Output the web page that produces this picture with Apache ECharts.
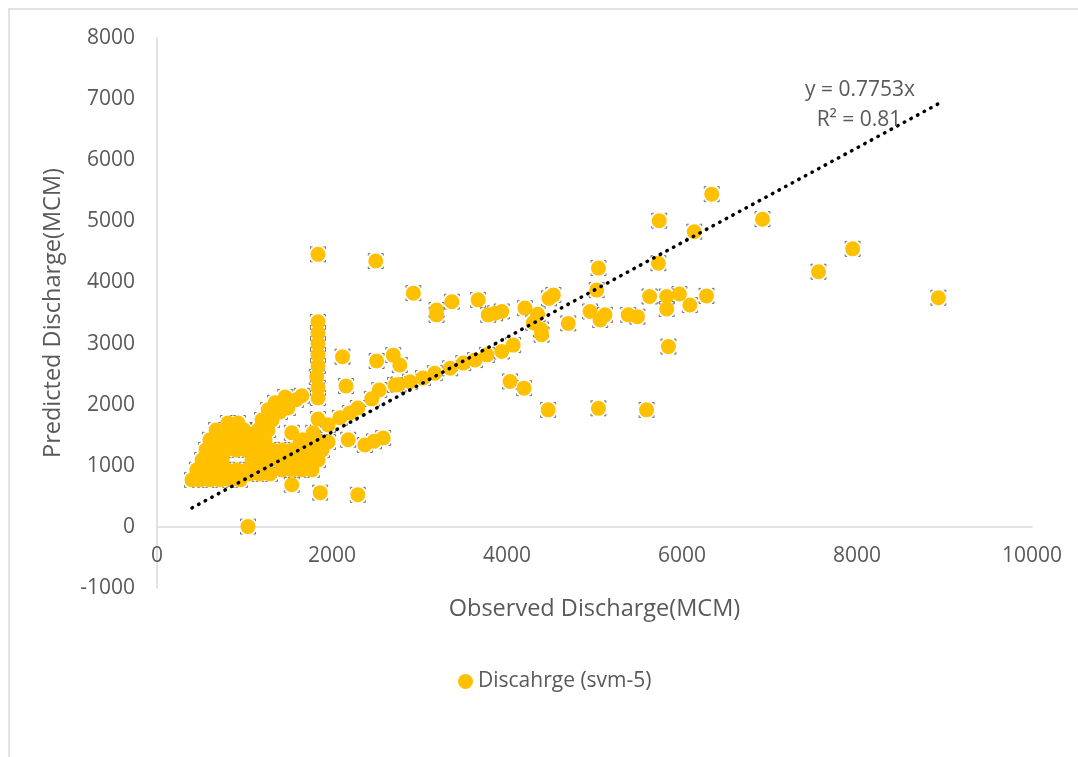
<!DOCTYPE html>
<html>
<head>
<meta charset="utf-8">
<title>Discharge scatter</title>
<script src="https://cdn.jsdelivr.net/npm/echarts@6/dist/echarts.min.js"></script>
<style>
  html, body { margin: 0; padding: 0; background: #ffffff; }
  #chart { width: 1078px; height: 757px; }
</style>
</head>
<body>
<div id="chart"></div>
<script>
// Observed vs predicted discharge (MCM), one pair per sample
const seriesName = 'Discahrge (svm-5)';
const xAxisTitle = 'Observed Discharge(MCM)';
const yAxisTitle = 'Predicted Discharge(MCM)';
const trendSlope = 0.7753;
const rSquared = 0.81;

const xTicks = { min: 0, max: 10000, step: 2000 };
const yTicks = { min: -1000, max: 8000, step: 1000 };

// scattered samples over the mid and upper range
const spreadSamples = [
  [1040, 5], [1840, 4460], [2500, 4350],
  [1840, 3355], [1840, 3175], [1840, 2995], [1840, 2815], [1840, 2635],
  [1825, 2455], [1840, 2275], [1840, 2110], [1840, 1765],
  [2120, 2785], [2160, 2305], [2510, 2715], [2700, 2810], [2775, 2650],
  [2540, 2240], [2455, 2095], [1655, 2145], [1540, 1540],
  [2185, 1425], [2375, 1340], [2480, 1400], [2585, 1455],
  [1540, 690], [1865, 560], [2295, 525],
  [2930, 3825], [3195, 3550], [3195, 3470], [3370, 3685], [3670, 3715],
  [3785, 3470], [3865, 3495], [3940, 3525], [4205, 3580], [4350, 3480],
  [4300, 3340], [4390, 3230], [4395, 3145], [4530, 3795], [4480, 3740],
  [4700, 3330], [4950, 3525], [5045, 4235], [5025, 3875], [5120, 3470],
  [5065, 3385], [5385, 3470], [5490, 3440], [5630, 3770], [5730, 4315],
  [5825, 3770], [5825, 3565], [5970, 3810], [6090, 3630], [6280, 3780],
  [5845, 2950], [4035, 2380], [4195, 2270], [4470, 1915], [5045, 1940],
  [5595, 1915], [6340, 5445], [5740, 5010], [6140, 4830], [6920, 5035],
  [7950, 4550], [7560, 4175], [8930, 3750]
];

// samples lying close to the fitted line
const trendSamples = [
  [1670, 1425], [1785, 1540], [1955, 1670], [2090, 1785], [2205, 1865],
  [2295, 1945], [2720, 2320], [2760, 2330], [2890, 2375], [3040, 2435],
  [3175, 2515], [3350, 2595], [3500, 2680], [3635, 2730], [3770, 2815],
  [3940, 2870], [4070, 2975]
];

// dense group of low-flow samples
const lowFlowSamples = [
  [400, 770], [490, 770], [605, 770], [720, 770], [835, 770], [950, 770],
  [455, 935], [570, 935], [685, 935], [800, 935], [915, 935], [1030, 935], [1145, 935], [1255, 935],
  [515, 1095], [630, 1095], [745, 1095], [1085, 1095], [1200, 1095],
  [560, 1260], [675, 1260], [790, 1260], [905, 1260], [1015, 1260], [1130, 1260],
  [605, 1425], [720, 1425], [835, 1425], [950, 1425], [1065, 1425],
  [675, 1585], [790, 1585], [905, 1585], [995, 1585],
  [810, 1700], [925, 1700],
  [1465, 2125], [1590, 2080], [1350, 2030], [1495, 1945], [1270, 1915], [1405, 1880],
  [1200, 1750], [1315, 1750], [1155, 1585], [1270, 1585], [1120, 1425], [1235, 1425],
  [1065, 867], [1175, 867], [1290, 867],
  [1430, 933], [1545, 933], [1655, 933], [1770, 933],
  [1155, 1096], [1270, 1096], [1385, 1096], [1500, 1096], [1610, 1096], [1725, 1096], [1840, 1096],
  [1200, 1260], [1315, 1260], [1430, 1260], [1545, 1260], [1655, 1260], [1770, 1260], [1885, 1260],
  [1635, 1390], [1750, 1390], [1865, 1390], [1955, 1390]
];

const samples = lowFlowSamples.concat(trendSamples, spreadSamples);

// fitted line through the origin, spanning the observed range
const obsValues = samples.map(p => p[0]);
const xLo = Math.min.apply(null, obsValues);
const xHi = Math.max.apply(null, obsValues);
const trendLine = [[xLo, trendSlope * xLo], [xHi, trendSlope * xHi]];

const textColor = '#595959';
const axisColor = '#d9d9d9';
const fontFamily = '"Open Sans", "Liberation Sans", sans-serif';
const plainNumber = v => String(v);

const chart = echarts.init(document.getElementById('chart'), null, { renderer: 'canvas' });

chart.setOption({
  animation: false,
  backgroundColor: '#ffffff',
  textStyle: { fontFamily: fontFamily },
  grid: { left: 157, right: 46, top: 38, bottom: 169 },
  xAxis: {
    type: 'value',
    min: xTicks.min, max: xTicks.max, interval: xTicks.step,
    axisLine: { onZero: true, lineStyle: { color: axisColor, width: 1.5 } },
    axisTick: { show: false },
    splitLine: { show: false },
    // labels sit just under the zero line, above the -1000 level
    axisLabel: { color: textColor, fontSize: 21, margin: -42, fontFamily: fontFamily, formatter: plainNumber },
    name: xAxisTitle,
    nameLocation: 'middle',
    nameGap: 9,
    nameTextStyle: { color: textColor, fontSize: 23.5, fontFamily: fontFamily }
  },
  yAxis: {
    type: 'value',
    min: yTicks.min, max: yTicks.max, interval: yTicks.step,
    axisLine: { show: true, onZero: false, lineStyle: { color: axisColor, width: 1.5 } },
    axisTick: { show: false },
    splitLine: { show: false },
    axisLabel: { color: textColor, fontSize: 21, margin: 22, fontFamily: fontFamily, formatter: plainNumber },
    name: yAxisTitle,
    nameLocation: 'middle',
    nameGap: 92,
    nameTextStyle: { color: textColor, fontSize: 23.5, fontFamily: fontFamily }
  },
  legend: {
    data: [seriesName],
    left: 453,
    top: 666,
    icon: 'circle',
    itemWidth: 15,
    itemHeight: 15,
    textStyle: { color: textColor, fontSize: 21, fontFamily: fontFamily }
  },
  graphic: [
    {
      type: 'rect',
      silent: true,
      z: -10,
      shape: { x: 9, y: 9, width: 1100, height: 800 },
      style: { fill: 'none', stroke: '#d9d9d9', lineWidth: 1.5 }
    },
    {
      type: 'text',
      silent: true,
      z: 100,
      style: {
        text: 'y = ' + trendSlope + 'x',
        x: 860, y: 90,
        textAlign: 'center', textVerticalAlign: 'middle',
        font: '21px ' + fontFamily,
        fill: textColor
      }
    },
    {
      type: 'text',
      silent: true,
      z: 100,
      style: {
        text: 'R² = ' + rSquared,
        x: 859, y: 120,
        textAlign: 'center', textVerticalAlign: 'middle',
        font: '21px ' + fontFamily,
        fill: textColor
      }
    }
  ],
  series: [
    {
      // thin grey corner ticks around each marker
      name: 'marker-frame',
      type: 'scatter',
      silent: true,
      z: 1,
      symbol: 'rect',
      symbolSize: 15,
      data: samples,
      itemStyle: {
        opacity: 1,
        color: 'rgba(0,0,0,0)',
        borderColor: '#6f6f6f',
        borderWidth: 1,
        borderType: [2, 11, 2, 0]
      }
    },
    {
      name: seriesName,
      type: 'scatter',
      z: 2,
      symbol: 'circle',
      symbolSize: 15,
      data: samples,
      itemStyle: { color: '#FFC000', opacity: 1 }
    },
    {
      name: 'trend',
      type: 'line',
      z: 5,
      silent: true,
      symbol: 'none',
      data: trendLine,
      lineStyle: { color: '#000000', width: 3.5, type: [0.5, 7], cap: 'round' }
    }
  ]
});
</script>
</body>
</html>
